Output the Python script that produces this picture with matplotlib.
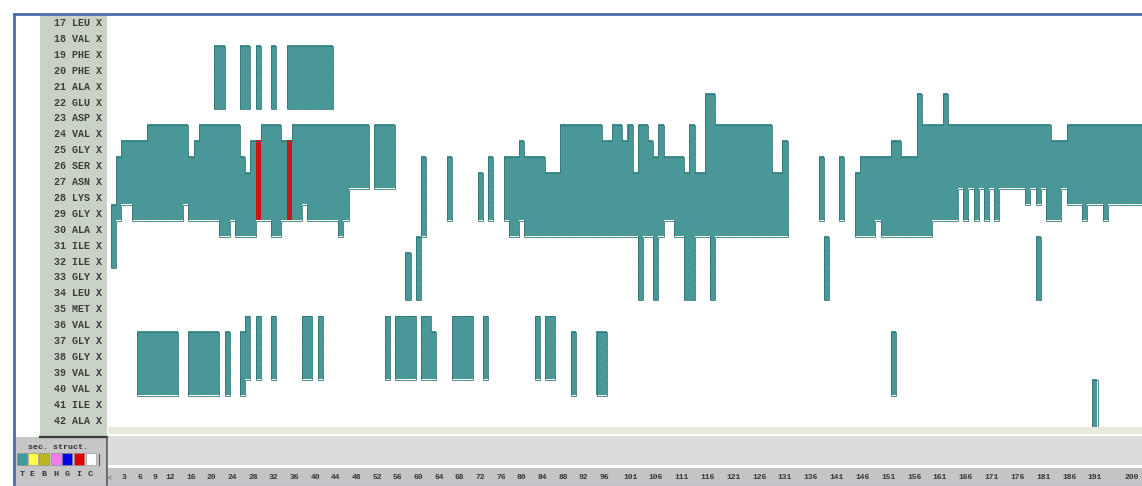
import matplotlib
matplotlib.use("Agg")
import matplotlib.pyplot as plt
import numpy as np
from matplotlib.patches import Rectangle
from matplotlib.collections import LineCollection

W, H, DPI = 1142, 486, 100

# ---------------- data ----------------
residue_ids = [17, 18, 19, 20, 21, 22, 23, 24, 25, 26, 27, 28, 29, 30, 31, 32, 33,
               34, 35, 36, 37, 38, 39, 40, 41, 42]
residue_names = ["LEU", "VAL", "PHE", "PHE", "ALA", "GLU", "ASP", "VAL", "GLY", "SER",
                 "ASN", "LYS", "GLY", "ALA", "ILE", "ILE", "GLY", "LEU", "MET", "VAL",
                 "GLY", "GLY", "VAL", "VAL", "ILE", "ALA"]
chain = "X"
n_frames = 200

tick_labels = [3, 6, 9, 12, 16, 20, 24, 28, 32, 36, 40, 44, 48, 52, 56, 60, 64, 68, 72,
               76, 80, 84, 88, 92, 96, 101, 106, 111, 116, 121, 126, 131, 136, 141, 146,
               151, 156, 161, 166, 171, 176, 181, 186, 191]
last_tick_label = 200

# Turn (T) intervals per residue: (first frame, end frame) 0-based, end exclusive
turn_17 = []
turn_18 = []
turn_19 = [(20, 22), (25, 27), (28, 29), (31, 32), (34, 43)]
turn_20 = [(20, 22), (25, 27), (28, 29), (31, 32), (34, 43)]
turn_21 = [(20, 22), (25, 27), (28, 29), (31, 32), (34, 43)]
turn_22 = [(20, 22), (25, 27), (28, 29), (31, 32), (34, 43), (115, 117), (156, 157), (161, 162)]
turn_23 = [(115, 117), (156, 157), (161, 162)]
turn_24 = [(7, 15), (17, 25), (29, 33), (35, 50), (51, 55), (87, 95), (97, 99), (100, 101),
           (102, 104), (106, 107), (112, 113), (115, 128), (156, 182), (185, 200)]
turn_25 = [(2, 15), (16, 25), (27, 28), (29, 34), (35, 50), (51, 55), (79, 80), (87, 101),
           (102, 105), (106, 107), (112, 113), (115, 128), (130, 131), (151, 153), (156, 200)]
turn_26 = [(1, 26), (27, 28), (29, 34), (35, 50), (51, 55), (60, 61), (65, 66), (73, 74),
           (76, 84), (87, 101), (102, 111), (112, 113), (115, 128), (130, 131), (137, 138),
           (141, 142), (145, 200)]
turn_27 = [(1, 28), (29, 34), (35, 50), (51, 55), (60, 61), (65, 66), (71, 72), (73, 74),
           (76, 131), (137, 138), (141, 142), (144, 200)]
turn_28 = [(1, 28), (29, 34), (35, 46), (60, 61), (65, 66), (71, 72), (73, 74), (76, 131),
           (137, 138), (141, 142), (144, 164), (165, 166), (167, 168), (169, 170), (171, 172),
           (177, 178), (179, 180), (181, 184), (185, 200)]
turn_29 = [(0, 2), (4, 14), (15, 28), (29, 34), (35, 37), (38, 46), (60, 61), (65, 66),
           (71, 72), (73, 74), (76, 131), (137, 138), (141, 142), (144, 164), (165, 166),
           (167, 168), (169, 170), (171, 172), (181, 184), (188, 189), (192, 193)]
turn_30 = [(0, 1), (21, 23), (24, 28), (31, 33), (44, 45), (60, 61), (77, 79), (80, 107),
           (109, 131), (144, 148), (149, 159)]
turn_31 = [(0, 1), (59, 60), (102, 103), (105, 106), (111, 113), (116, 117), (138, 139), (179, 180)]
turn_32 = [(0, 1), (57, 58), (59, 60), (102, 103), (105, 106), (111, 113), (116, 117), (138, 139), (179, 180)]
turn_33 = [(57, 58), (59, 60), (102, 103), (105, 106), (111, 113), (116, 117), (138, 139), (179, 180)]
turn_34 = [(57, 58), (59, 60), (102, 103), (105, 106), (111, 113), (116, 117), (138, 139), (179, 180)]
turn_35 = []
turn_36 = [(26, 27), (28, 29), (31, 32), (37, 39), (40, 41), (53, 54), (55, 59), (60, 62),
           (66, 70), (72, 73), (82, 83), (84, 86)]
turn_37 = [(5, 13), (15, 21), (22, 23), (25, 27), (28, 29), (31, 32), (37, 39), (40, 41),
           (53, 54), (55, 59), (60, 63), (66, 70), (72, 73), (82, 83), (84, 86), (89, 90),
           (94, 96), (151, 152)]
turn_38 = [(5, 13), (15, 21), (22, 23), (25, 27), (28, 29), (31, 32), (37, 39), (40, 41),
           (53, 54), (55, 59), (60, 63), (66, 70), (72, 73), (82, 83), (84, 86), (89, 90),
           (94, 96), (151, 152)]
turn_39 = [(5, 13), (15, 21), (22, 23), (25, 27), (28, 29), (31, 32), (37, 39), (40, 41),
           (53, 54), (55, 59), (60, 63), (66, 70), (72, 73), (82, 83), (84, 86), (89, 90),
           (94, 96), (151, 152)]
turn_40 = [(5, 13), (15, 21), (22, 23), (25, 26), (89, 90), (94, 96), (151, 152), (190, 191)]
turn_41 = [(190, 191)]
turn_42 = [(190, 191)]

# pi-helix (I) intervals
pi_rows = [25, 26, 27, 28, 29]
pi_frames = [(28, 29), (34, 35)]

legend_codes = ["T", "E", "B", "H", "G", "I", "C"]
legend_colors = ["#3f9a9a", "#ffff44", "#b9b81f", "#f07cf0", "#0000e6", "#e00000", "#ffffff"]

TEAL = "#4a9797"
TEAL_EDGE = "#2f7675"
RED = "#cf1419"

turns = [turn_17, turn_18, turn_19, turn_20, turn_21, turn_22, turn_23, turn_24, turn_25,
         turn_26, turn_27, turn_28, turn_29, turn_30, turn_31, turn_32, turn_33, turn_34,
         turn_35, turn_36, turn_37, turn_38, turn_39, turn_40, turn_41, turn_42]

# ---------------- figure ----------------
fig = plt.figure(figsize=(W / DPI, H / DPI), dpi=DPI)
fig.patch.set_facecolor("white")

bg = fig.add_axes([0, 0, 1, 1])
bg.set_xlim(0, W)
bg.set_ylim(H, 0)
bg.axis("off")


def box(x0, y0, x1, y1, color):
    bg.add_patch(Rectangle((x0, y0), x1 - x0, y1 - y0, facecolor=color, edgecolor="none"))


box(40, 15, 107, 436, "#c9d3c5")       # label column
box(108, 427, 1142, 434, "#e8eadb")    # beige band
box(108, 436, 1142, 465, "#dcdcdc")    # grey band
box(108, 468, 1142, 486, "#c4c4c4")    # tick strip
box(15, 437, 107, 486, "#c6c6c6")      # legend box
bg.plot([40, 107], [436.5, 436.5], color="#3a3a3a", lw=1.6)
bg.plot([107, 107], [437, 486], color="#555555", lw=1.2)
bg.plot([13.5, 13.5], [14.5, 486], color="#4a6cae", lw=2)
bg.plot([13.5, 1142], [14.5, 14.5], color="#4a6cae", lw=2)
bg.plot([13.5, 1142], [485.5, 485.5], color="#9fb4dc", lw=1)

# legend
bg.text(58, 447, "sec. struct.", ha="center", va="center", fontsize=6,
        family="Liberation Mono", weight="bold", color="#333333")
sw_x = [17, 27.5, 38.5, 50.5, 62, 73.5, 85.5]
for x0, code, col in zip(sw_x, legend_codes, legend_colors):
    bg.add_patch(Rectangle((x0, 453), 10, 12, facecolor=col, edgecolor="#888888", lw=0.4))
    bg.text(x0 + 5, 474, code, ha="center", va="center", fontsize=6,
            family="Liberation Mono", weight="bold", color="#333333")
bg.plot([98.5, 98.5], [454, 465], color="#555555", lw=0.8)

# main timeline
nres = len(residue_ids)
occ = np.zeros((nres, n_frames), dtype=int)
for r, ivs in enumerate(turns):
    for s, e in ivs:
        occ[r, s:e] = 1
for res in pi_rows:
    r = residue_ids.index(res)
    for s, e in pi_frames:
        occ[r, s:e] = 2

rgba = np.zeros((nres, n_frames, 4))
rgba[occ == 1] = matplotlib.colors.to_rgba(TEAL)
rgba[occ == 2] = matplotlib.colors.to_rgba(RED)

px_per_frame = 5.165
x_origin = 111.0
top, bottom = 14.05, 14.05 + 15.9 * nres
ax = fig.add_axes([108 / W, 1 - bottom / H, (W - 108) / W, (bottom - top) / H])
ax.set_xlim((108 - x_origin) / px_per_frame, (W - x_origin) / px_per_frame)
ax.set_ylim(nres, 0)
ax.set_facecolor("none")
ax.imshow(rgba, extent=(0, n_frames, nres, 0), interpolation="nearest", aspect="auto")

filled = occ > 0
segs = []
for r in range(nres):
    for f in range(n_frames + 1):
        a = filled[r, f - 1] if f > 0 else False
        b = filled[r, f] if f < n_frames else False
        if a != b:
            segs.append([(f, r), (f, r + 1)])
for f in range(n_frames):
    for r in range(nres + 1):
        a = filled[r - 1, f] if r > 0 else False
        b = filled[r, f] if r < nres else False
        if a != b:
            segs.append([(f, r), (f + 1, r)])
ax.add_collection(LineCollection(segs, colors=TEAL_EDGE, linewidths=0.6))

for s in ax.spines.values():
    s.set_visible(False)
ax.set_xticks([])
ax.set_yticks(np.arange(nres) + 0.5)
ax.set_yticklabels([f"{i} {n} {chain}" for i, n in zip(residue_ids, residue_names)],
                   family="Liberation Mono", weight="bold", fontsize=7.2, color="#3b3b3b")
ax.tick_params(axis="y", length=0, pad=4)

# frame tick strip
sx = fig.add_axes([108 / W, 0, (W - 108) / W, 18 / H])
sx.set_xlim(ax.get_xlim())
sx.set_ylim(0, 1)
sx.set_facecolor("none")
sx.axis("off")
for n in tick_labels:
    sx.text(n - 0.5, 0.45, str(n), ha="center", va="center", fontsize=5.8,
            family="Liberation Mono", weight="bold", color="#353535", clip_on=True)
sx.text(0.997, 0.45, str(last_tick_label), transform=sx.transAxes, ha="right", va="center",
        fontsize=5.8, family="Liberation Mono", weight="bold", color="#353535")
sx.text(-0.2, 0.45, "<", ha="center", va="center", fontsize=5, family="Liberation Mono",
        color="#555555")

fig.savefig("out.png", dpi=DPI)
